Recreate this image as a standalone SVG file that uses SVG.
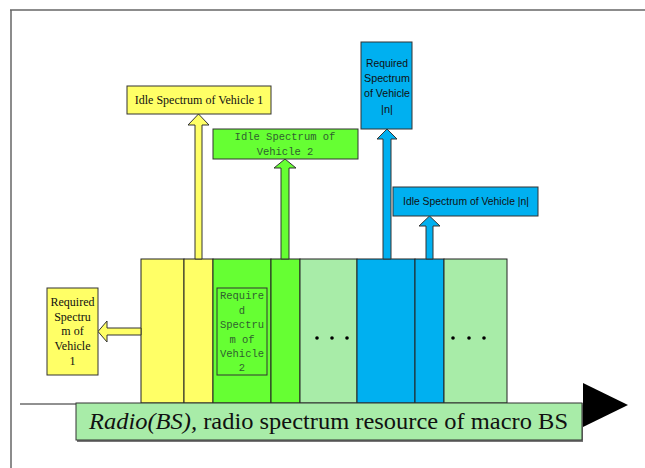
<svg xmlns="http://www.w3.org/2000/svg" width="645" height="468" viewBox="0 0 645 468">
<style>
.bar{stroke:#222;stroke-width:1}
.box{stroke:#333;stroke-width:1}
.arr{stroke:#333;stroke-width:1;stroke-linejoin:miter}
.y{fill:#ffff66}
.g{fill:#66ff33}
.lg{fill:#a8eca8}
.b{fill:#00b0f0}
.serif{font-family:"Liberation Serif","Times New Roman",serif;fill:#111}
.mono{font-family:"Liberation Mono","DejaVu Sans Mono",monospace;font-size:10.5px;fill:#2f5f2f}
.cond{font-family:"Liberation Sans",Arial,sans-serif;font-size:11px;fill:#111}
</style>
<rect width="645" height="468" fill="#fff"/>
<g id="frame">
<line x1="10" y1="10" x2="645" y2="10" stroke="#666" stroke-width="1.5"/>
<line x1="11" y1="10" x2="11" y2="468" stroke="#666" stroke-width="1.5"/>
</g>
<g id="axis">
<line x1="20" y1="404" x2="585" y2="404" stroke="#222" stroke-width="1"/>
<polygon points="583,383 628,405 583,427" fill="#000"/>
</g>
<g id="bars">
<rect class="bar y" x="141" y="259" width="43" height="144"/>
<rect class="bar y" x="184" y="259" width="29" height="144"/>
<rect class="bar g" x="213" y="259" width="58" height="144"/>
<rect class="bar g" x="271" y="259" width="29" height="144"/>
<rect class="bar lg" x="300" y="259" width="57" height="144"/>
<rect class="bar b" x="357" y="259" width="58" height="144"/>
<rect class="bar b" x="415" y="259" width="29" height="144"/>
<rect class="bar lg" x="444" y="259" width="63" height="144"/>
<g fill="#000">
<circle cx="317" cy="338" r="1.8"/><circle cx="332" cy="338" r="1.8"/><circle cx="347" cy="338" r="1.8"/>
<circle cx="453" cy="338" r="1.8"/><circle cx="469" cy="338" r="1.8"/><circle cx="484" cy="338" r="1.8"/>
</g>
</g>
<g id="connectors">
<polygon class="arr y" points="198.5,114 209,125 202,125 202,259 195,259 195,125 188,125"/>
<polygon class="arr g" points="285,159 296,168 289,168 289,259 281,259 281,168 274,168"/>
<polygon class="arr b" points="387,129 397,139 391,139 391,259 383,259 383,139 377,139"/>
<polygon class="arr b" points="429.5,216 440,226 433,226 433,259 426,259 426,226 419,226"/>
<polygon class="arr y" points="98,331.5 107,321 107,328 141,328 141,335 107,335 107,342"/>
</g>
<g id="idle1">
<rect class="box y" x="127" y="86" width="144" height="28"/>
<text class="serif" x="199" y="104" font-size="12" text-anchor="middle">Idle Spectrum of Vehicle 1</text>
</g>
<g id="idle2">
<rect class="box g" x="213" y="129" width="145" height="30"/>
<text class="mono" x="285" y="140" text-anchor="middle">Idle Spectrum of</text>
<text class="mono" x="285" y="155" text-anchor="middle">Vehicle 2</text>
</g>
<g id="reqn">
<rect class="box b" x="361" y="42" width="51" height="87"/>
<text class="cond" x="387" y="67" text-anchor="middle" textLength="42" lengthAdjust="spacingAndGlyphs">Required</text>
<text class="cond" x="387" y="82" text-anchor="middle" textLength="46" lengthAdjust="spacingAndGlyphs">Spectrum</text>
<text class="cond" x="387" y="97" text-anchor="middle" textLength="46" lengthAdjust="spacingAndGlyphs">of Vehicle</text>
<text class="cond" x="387" y="113" text-anchor="middle">|n|</text>
</g>
<g id="idlen">
<rect class="box b" x="393" y="187" width="145" height="29"/>
<text class="cond" x="466" y="205" text-anchor="middle" textLength="126" lengthAdjust="spacingAndGlyphs">Idle Spectrum of Vehicle |n|</text>
</g>
<g id="req1">
<rect class="box y" x="47" y="288" width="51" height="87"/>
<g class="serif" font-size="12" text-anchor="middle">
<text x="72.5" y="306">Required</text>
<text x="72.5" y="321">Spectru</text>
<text x="72.5" y="335">m of</text>
<text x="72.5" y="350">Vehicle</text>
<text x="72.5" y="365">1</text>
</g>
</g>
<g id="req2">
<rect x="217" y="288" width="50" height="87" fill="none" stroke="#333" stroke-width="1"/>
<g class="mono" text-anchor="middle">
<text x="242" y="299">Require</text>
<text x="242" y="314">d</text>
<text x="242" y="328">Spectru</text>
<text x="242" y="343">m of</text>
<text x="242" y="357">Vehicle</text>
<text x="242" y="371">2</text>
</g>
</g>
<g id="label">
<rect x="77" y="405" width="506" height="37" fill="#777"/>
<rect class="box lg" x="76" y="403" width="506" height="37"/>
<text class="serif" x="89" y="429" font-size="23" textLength="479" lengthAdjust="spacingAndGlyphs"><tspan font-style="italic">Radio(BS),</tspan> radio spectrum resource of macro BS</text>
</g>
</svg>
